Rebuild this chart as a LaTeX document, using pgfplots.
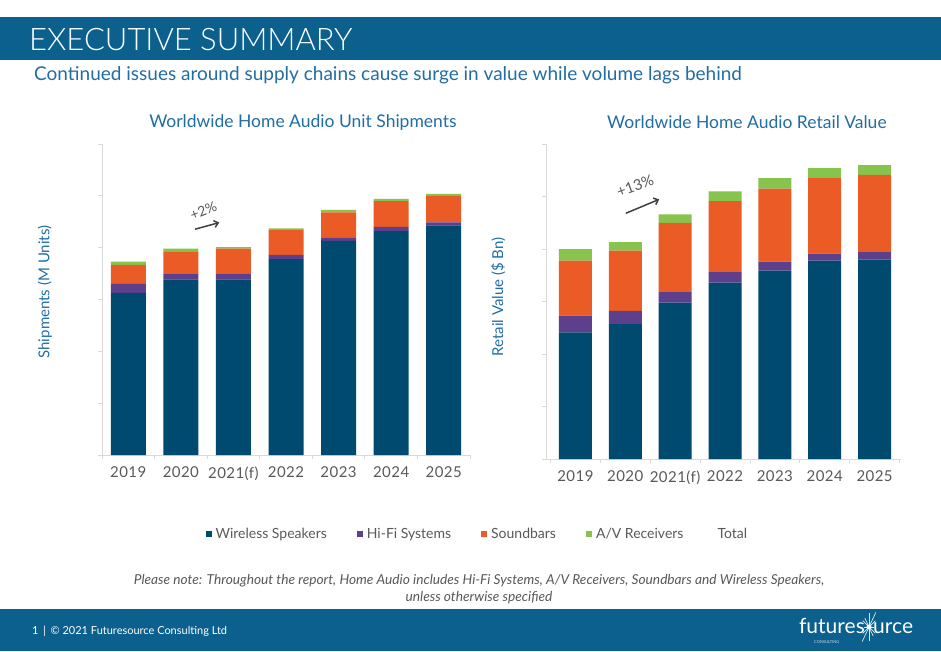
\documentclass[border=0pt]{standalone}
\usepackage{fontspec}
\setmainfont{Lato}
\newfontfamily\lightfont{Lato Light}
\usepackage{pgfplots}
\usepackage{pgfplotstable}
\pgfplotsset{compat=1.18}
\usetikzlibrary{arrows.meta}
\definecolor{wireless}{RGB}{0,74,112}
\definecolor{hifi}{RGB}{93,63,140}
\definecolor{soundbar}{RGB}{234,91,37}
\definecolor{avr}{RGB}{134,196,78}
\definecolor{banner}{RGB}{11,96,142}
\definecolor{titleblue}{RGB}{33,110,165}
\definecolor{axgray}{RGB}{217,217,217}
\definecolor{txtgray}{RGB}{89,89,89}

\pgfplotstableread{
x W H S A
0 156.5 8.5 18.5 3
1 169.5 5 22 2.5
2 169.5 5 24.5 1.5
3 189 4 24 1.5
4 206.5 3.5 24 2.5
5 216 4 25 2
6 221.5 3 26 1.5
}\unitstable
\pgfplotstableread{
x W H S A
0 12.05 1.6 5.25 1.1
1 12.85 1.25 5.75 0.8
2 14.9 1.0 6.6 0.8
3 16.8 1.0 6.75 0.95
4 17.95 0.85 6.95 1.0
5 18.9 0.65 7.2 0.95
6 19.0 0.7 7.35 0.95
}\valtable

\pgfplotsset{
  common/.style={
    scale only axis,
    ybar stacked,
    ymin=0,
    xtick={0,...,6},
    xticklabels={2019,2020,2021(f),2022,2023,2024,2025},
    major x tick style={draw=none},
    minor xtick={-0.5,0.5,...,6.5},
    minor tick length=4pt,
    major tick length=4pt,
    tick align=outside,
    axis x line*=bottom,
    axis y line*=left,
    axis line style={axgray, line width=0.8pt},
    every tick/.style={axgray, line width=0.8pt},
    yticklabels={},
    xticklabel style={text=txtgray, font=\addfontfeatures{LetterSpace=3}\fontsize{15}{15}\selectfont, yshift=-4pt},
    ylabel style={text=titleblue, font=\fontsize{15}{15}\selectfont, anchor=center},
    title style={text=titleblue, font=\fontsize{17.5}{17.5}\selectfont, anchor=center},
    clip=false,
  },
}

\begin{document}
\begin{tikzpicture}[x=1pt,y=1pt]
\fill[white] (0pt,0pt) rectangle (941pt,651pt);
\fill[banner] (0pt,591pt) rectangle (941pt,634pt);
\node[anchor=base west, inner sep=0, text=white, font=\lightfont\fontsize{31}{31}\selectfont] at (29pt,600pt) {EXECUTIVE SUMMARY};
\node[anchor=base west, inner sep=0, text=titleblue, font=\fontsize{19}{19}\selectfont] at (34pt,570pt) {Continued issues around supply chains cause surge in value while volume lags behind};

\begin{axis}[common,
  at={(102pt,196pt)}, anchor=south west,
  width=368pt, height=311pt,
  bar width=35pt,
  xmin=-0.5, xmax=6.5, ymax=300,
  ytick={0,50,...,300},
  ylabel={Shipments (M Units)},
  ylabel style={at={(rel axis cs:-0.155,0.524)}},
  title={Worldwide Home Audio Unit Shipments},
  title style={at={(rel axis cs:0.546,1.051)}},
  legend columns=5,
  legend style={at={(rel axis cs:1.02,-0.254)}, anchor=center, draw=none, fill=none,
    font=\fontsize{14}{14}\selectfont, text=txtgray,
    /tikz/every even column/.append style={column sep=28pt},
    /tikz/every odd column/.append style={column sep=2pt}},
  legend image code/.code={\fill[#1] (0pt,-3pt) rectangle (6pt,3pt);},
]
\addplot[fill=wireless, draw=none] table[x=x,y=W]{\unitstable};
\addlegendentry{Wireless Speakers}
\addplot[fill=hifi, draw=none] table[x=x,y=H]{\unitstable};
\addlegendentry{Hi-Fi Systems}
\addplot[fill=soundbar, draw=none] table[x=x,y=S]{\unitstable};
\addlegendentry{Soundbars}
\addplot[fill=avr, draw=none] table[x=x,y=A]{\unitstable};
\addlegendentry{A/V Receivers}
\addlegendimage{empty legend}
\addlegendentry{Total}
\draw[-{Straight Barb[length=4pt,width=7pt]}, line width=1.5pt, black!75] (axis cs:1.27,217.8) -- (axis cs:1.73,224.2);
\node[rotate=22, inner sep=1pt, text=txtgray, font=\fontsize{14}{14}\selectfont] at (axis cs:1.43,236) {+2\%};
\end{axis}

\begin{axis}[common,
  at={(546pt,192pt)}, anchor=south west,
  width=355pt, height=315pt,
  bar width=33pt,
  xmin=-0.59, xmax=6.53, ymax=30,
  ytick={0,5,...,30},
  ylabel={Retail Value (\$ Bn)},
  ylabel style={at={(rel axis cs:-0.135,0.514)}},
  title={Worldwide Home Audio Retail Value},
  title style={at={(rel axis cs:0.566,1.051)}},
]
\addplot[fill=wireless, draw=none] table[x=x,y=W]{\valtable};
\addplot[fill=hifi, draw=none] table[x=x,y=H]{\valtable};
\addplot[fill=soundbar, draw=none] table[x=x,y=S]{\valtable};
\addplot[fill=avr, draw=none] table[x=x,y=A]{\valtable};
\draw[-{Straight Barb[length=4pt,width=7pt]}, line width=1.5pt, black!75] (axis cs:1.01,23.4) -- (axis cs:1.68,24.73);
\node[rotate=20, inner sep=1pt, text=txtgray, font=\fontsize{15}{15}\selectfont] at (axis cs:1.2,26.0) {+13\%};
\end{axis}

\node[align=center, text=txtgray, font=\itshape\fontsize{13.7}{17}\selectfont] at (479pt,62pt) {Please note: Throughout the report, Home Audio includes Hi-Fi Systems, A/V Receivers, Soundbars and Wireless Speakers,\\ unless otherwise specified};

\fill[banner] (0pt,0pt) rectangle (941pt,42pt);
\node[anchor=base west, inner sep=0, text=white, font=\fontsize{11}{11}\selectfont] at (32pt,17pt) {1 \,|\, © 2021 Futuresource Consulting Ltd};
\node[anchor=base east, inner sep=0, text=white, font=\fontsize{21}{21}\selectfont] at (865pt,18pt) {futures};
\node[anchor=base west, inner sep=0, text=white, font=\fontsize{21}{21}\selectfont] at (873pt,18pt) {urce};
\node[anchor=base west, inner sep=0, text=white!80!banner, font=\fontsize{4}{4}\selectfont] at (814pt,8pt) {CONSULTING};
\foreach \a/\l in {0/5,45/9,90/14,135/9,180/5,225/9,270/14,315/9,65/16,245/16,115/10,295/10}{
  \draw[white, line width=0.7pt, opacity=0.85] (869pt,24pt) -- ++(\a:\l pt);
}
\fill[white] (869pt,24pt) circle (2.5pt);
\end{tikzpicture}
\end{document}
